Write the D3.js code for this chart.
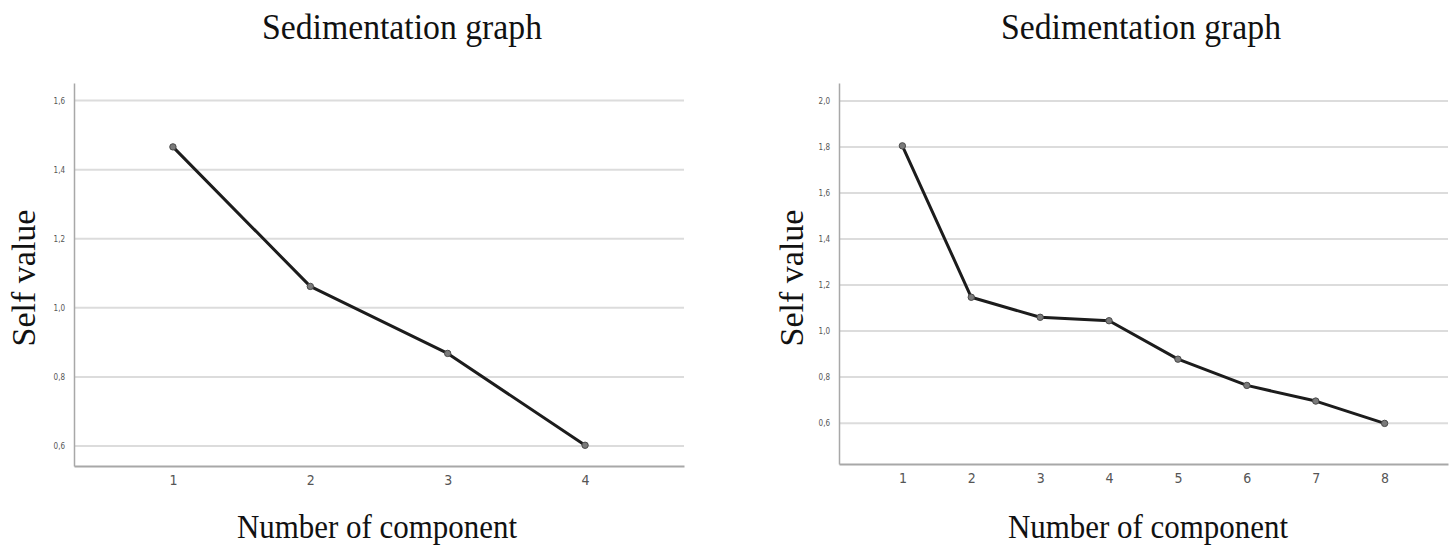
<!DOCTYPE html>
<html>
<head>
<meta charset="utf-8">
<script src="https://cdn.jsdelivr.net/npm/d3@7"></script>
<style>
  body { margin: 0; background: #fff; }
  svg { display: block; }
</style>
</head>
<body>
<div id="chart"></div>
<script>
// page size
const width = 1451;
const height = 545;

// data
const components1 = ["1", "2", "3", "4"];
const values1 = [1.466, 1.062, 0.868, 0.602];
const ticks1 = [0.6, 0.8, 1.0, 1.2, 1.4, 1.6];

const components2 = ["1", "2", "3", "4", "5", "6", "7", "8"];
const values2 = [1.805, 1.147, 1.060, 1.045, 0.878, 0.764, 0.696, 0.599];
const ticks2 = [0.6, 0.8, 1.0, 1.2, 1.4, 1.6, 1.8, 2.0];

const titleText = "Sedimentation graph";
const xLabelText = "Number of component";
const yLabelText = "Self value";

const svg = d3.select("#chart")
  .append("svg")
  .attr("width", width)
  .attr("height", height);

// SPSS style comma decimals
const fmt = v => d3.format(".1f")(v).replace(".", ",");

// one panel = one scree plot
function drawPanel(cfg) {
  const x = d3.scalePoint()
    .domain(cfg.cats)
    .range([cfg.left, cfg.right])
    .padding(cfg.pad);

  const y = d3.scaleLinear()
    .domain(cfg.yDomain)
    .range([cfg.bottom, cfg.top]);

  const g = svg.append("g");

  // gridlines
  g.selectAll(".grid")
    .data(cfg.ticks)
    .enter()
    .append("line")
      .attr("x1", cfg.left)
      .attr("x2", cfg.right)
      .attr("y1", d => y(d))
      .attr("y2", d => y(d))
      .attr("stroke", "#dcdcdc")
      .attr("stroke-width", 2);

  // y axis (no tick marks, just the line and labels)
  const yAxis = g.append("g")
    .attr("transform", `translate(${cfg.left},0)`)
    .call(d3.axisLeft(y).tickValues(cfg.ticks).tickFormat(fmt).tickSize(0).tickPadding(9));
  yAxis.select(".domain").attr("stroke", "#a8a8a8").attr("stroke-width", 1.5);
  yAxis.selectAll("text")
    .attr("font-family", "'Liberation Sans Narrow', 'DejaVu Sans Condensed', sans-serif")
    .attr("font-size", "8px")
    .attr("fill", "#555");

  // x axis
  const xAxis = g.append("g")
    .attr("transform", `translate(0,${cfg.bottom})`)
    .call(d3.axisBottom(x).tickSize(0).tickPadding(9));
  xAxis.select(".domain").attr("stroke", "#a8a8a8").attr("stroke-width", 2);
  xAxis.selectAll("text")
    .attr("font-family", "'Liberation Sans Narrow', 'DejaVu Sans Condensed', sans-serif")
    .attr("font-size", "14px")
    .attr("fill", "#555");

  // the scree line
  const line = d3.line()
    .x((d, i) => x(cfg.cats[i]))
    .y(d => y(d));

  g.append("path")
    .datum(cfg.values)
    .attr("fill", "none")
    .attr("stroke", "#1c1c1c")
    .attr("stroke-width", 3)
    .attr("stroke-linejoin", "round")
    .attr("d", line);

  g.selectAll(".pt")
    .data(cfg.values)
    .enter()
    .append("circle")
      .attr("cx", (d, i) => x(cfg.cats[i]))
      .attr("cy", d => y(d))
      .attr("r", 3.2)
      .attr("fill", "#7a7a7a")
      .attr("stroke", "#4a4a4a")
      .attr("stroke-width", 1);

  // titles in serif
  g.append("text")
    .attr("x", cfg.titleX)
    .attr("y", 39)
    .attr("text-anchor", "middle")
    .attr("font-family", "'Liberation Serif', 'Times New Roman', serif")
    .attr("font-size", "35px")
    .attr("fill", "#111")
    .attr("textLength", 280)
    .attr("lengthAdjust", "spacingAndGlyphs")
    .text(titleText);

  g.append("text")
    .attr("x", cfg.xLabelX)
    .attr("y", 538)
    .attr("text-anchor", "middle")
    .attr("font-family", "'Liberation Serif', 'Times New Roman', serif")
    .attr("font-size", "33px")
    .attr("fill", "#111")
    .attr("textLength", 280)
    .attr("lengthAdjust", "spacingAndGlyphs")
    .text(xLabelText);

  g.append("text")
    .attr("transform", `translate(${cfg.yLabelX},278) rotate(-90)`)
    .attr("text-anchor", "middle")
    .attr("font-family", "'Liberation Serif', 'Times New Roman', serif")
    .attr("font-size", "34px")
    .attr("fill", "#111")
    .text(yLabelText);
}

drawPanel({
  cats: components1, values: values1, ticks: ticks1,
  left: 74, right: 684, pad: 0.72,
  top: 83, bottom: 466, yDomain: [0.542, 1.651],
  titleX: 402, xLabelX: 377, yLabelX: 35
});

drawPanel({
  cats: components2, values: values2, ticks: ticks2,
  left: 839, right: 1448, pad: 0.92,
  top: 83, bottom: 464, yDomain: [0.4225, 2.078],
  titleX: 1141, xLabelX: 1148, yLabelX: 803
});
</script>
</body>
</html>
